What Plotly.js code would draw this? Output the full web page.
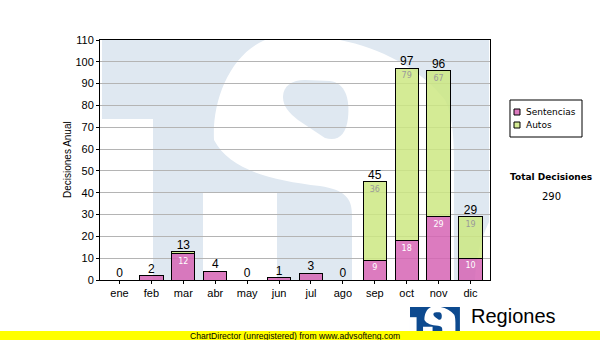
<!DOCTYPE html>
<html>
<head>
<meta charset="utf-8">
<script src="https://cdn.plot.ly/plotly-3.0.1.min.js"></script>
<style>html,body{margin:0;padding:0;background:#fff;}#chart{width:600px;height:340px;}</style>
</head>
<body>
<div id="chart"></div>
<script>
// ---- data ----
const months = ['ene','feb','mar','abr','may','jun','jul','ago','sep','oct','nov','dic'];
const sentencias = [0, 2, 12, 4, 0, 1, 3, 0, 9, 18, 29, 10];
const autos = [0, 0, 1, 0, 0, 0, 0, 0, 36, 79, 67, 19];
const seriesNames = ['Sentencias', 'Autos'];
const yTitle = 'Decisiones Anual';
const totalTitle = 'Total Decisiones';
const brandText = 'Regiones';
const footerText = 'ChartDirector (unregistered) from www.advsofteng.com';

const totals = sentencias.map((s, i) => s + autos[i]);
const grandTotal = totals.reduce((a, b) => a + b, 0);

// ---- page-pixel -> paper helpers (decoration only) ----
const PL = 100, PR = 490, PT = 40, PB = 280;
function toPaper(x, y) { return [(x - PL) / (PR - PL), (PB - y) / (PB - PT)]; }
function pth(d, tx) {
  return d.replace(/(-?\d+(?:\.\d+)?),(-?\d+(?:\.\d+)?)/g, (m, a, b) => {
    const q = tx ? tx(+a, +b) : [+a, +b];
    const p = toPaper(q[0], q[1]);
    return p[0].toFixed(5) + ',' + p[1].toFixed(5);
  });
}
function shp(d, fill, tx, extra) {
  return Object.assign({type: 'path', xref: 'paper', yref: 'paper', layer: 'below',
    path: pth(d, tx), fillcolor: fill, line: {width: 0}}, extra || {});
}

// logo geometry (page px, watermark scale)
const logoBg = 'M102,40 L489,40 L489,280 L102,280 Z';
const logoLeft = 'M102,119 L153,119 L153,280 L102,280 Z';
const logoS = 'M214,140 C212,100 230,55 265,40 L340,40 C380,48 420,68 445,100 C452,115 454,135 454,160 L454,280 L352,280 L352,215 C352,198 345,190 320,186 C270,180 230,170 214,140 Z';
const logoSlab = 'M203,193 L277,193 L277,280 L203,280 Z';
const logoBlob = 'M283,97 C283,86 292,80 305,80 L330,81 C345,83 350,98 348,118 C346,135 338,142 325,138 L298,120 C289,113 283,106 283,97 Z';
const logoCorner = 'M489,222 C480,240 476,260 475,280 L489,280 Z';

const wmBlue = '#dfe8f1';
const logoBlue = '#0d4a8f';
const small = (x, y) => [410 + (x - 102) * 0.129, 307 + (y - 40) * 0.129];

const shapes = [
  // watermark
  shp(logoBg, wmBlue), shp(logoLeft, '#ffffff'), shp(logoS, '#ffffff'),
  shp(logoSlab, '#ffffff'), shp(logoBlob, wmBlue), shp(logoCorner, '#ffffff'),
  // small logo
  shp(logoBg, logoBlue, small), shp(logoLeft, '#ffffff', small), shp(logoS, '#ffffff', small),
  shp(logoSlab, '#ffffff', small), shp(logoBlob, logoBlue, small),
  // footer bar
  shp('M0,331 L600,331 L600,340 L0,340 Z', '#ffff00'),
  // legend box
  shp('M510,100 L582,100 L582,137 L510,137 Z', '#ffffff', null, {line: {width: 1, color: '#000'}}),
  shp('M514,109 L520,109 L520,115 L514,115 Z', '#dc7bbf', null, {line: {width: 1, color: '#000'}}),
  shp('M514,122 L520,122 L520,128 L514,128 Z', '#d5eb95', null, {line: {width: 1, color: '#000'}})
];

function ann(px, py, text, font, extra) {
  const p = toPaper(px, py);
  return Object.assign({xref: 'paper', yref: 'paper', x: p[0], y: p[1], text: text,
    showarrow: false, font: font, xanchor: 'center', yanchor: 'middle'}, extra || {});
}
const verd = 'Verdana, "DejaVu Sans", sans-serif';
const arial = '"Liberation Sans", Arial, sans-serif';
const annotations = [
  ann(524, 112, seriesNames[0], {family: verd, size: 9, color: '#000'}, {xanchor: 'left'}),
  ann(524, 125, seriesNames[1], {family: verd, size: 9, color: '#000'}, {xanchor: 'left'}),
  ann(551, 177, '<b>' + totalTitle + '</b>', {family: verd, size: 9, color: '#000'}),
  ann(551, 196, String(grandTotal), {family: verd, size: 10, color: '#000'}),
  ann(469, 316, brandText, {family: arial, size: 20, color: '#000'}, {xanchor: 'left'}),
  ann(295, 335.5, footerText, {family: arial, size: 8.6, color: '#000'}),
  ann(67, 160, yTitle, {family: arial, size: 10, color: '#000'}, {textangle: -90})
];

const traces = [
  {type: 'bar', name: seriesNames[0], x: months, y: sentencias, text: sentencias.map(String),
   textposition: 'inside', insidetextanchor: 'end',
   textfont: {family: verd, size: 8, color: '#ffffff'},
   marker: {color: 'rgba(214,100,180,0.85)', line: {color: '#000', width: 1}},
   hoverinfo: 'skip'},
  {type: 'bar', name: seriesNames[1], x: months, y: autos, text: autos.map(String),
   textposition: 'inside', insidetextanchor: 'end',
   textfont: {family: verd, size: 8, color: '#9a9a9a'},
   marker: {color: 'rgba(205,232,130,0.85)', line: {color: '#000', width: 1}},
   hoverinfo: 'skip'},
  {type: 'scatter', mode: 'text', x: months, y: totals, text: totals.map(String),
   textposition: 'top center', textfont: {family: arial, size: 12, color: '#000'},
   cliponaxis: false, showlegend: false, hoverinfo: 'skip'}
];

const layout = {
  width: 600, height: 340,
  margin: {l: PL, r: 600 - PR, t: PT, b: 340 - PB, pad: 0},
  paper_bgcolor: '#ffffff', plot_bgcolor: 'rgba(0,0,0,0)',
  barmode: 'stack', bargap: 0.27,
  showlegend: false,
  uniformtext: {mode: 'hide', minsize: 8},
  xaxis: {type: 'category', showline: true, mirror: true, linecolor: '#000', linewidth: 1,
    ticks: 'outside', ticklen: 3, tickcolor: '#000', showgrid: false, zeroline: false,
    tickfont: {family: arial, size: 11, color: '#000'}},
  yaxis: {range: [0, 110], dtick: 10, tick0: 0, showline: true, mirror: true, linecolor: '#000', linewidth: 1,
    ticks: 'outside', ticklen: 3, tickcolor: '#000', showgrid: true, gridcolor: '#b4b4b4', gridwidth: 1,
    zeroline: false, tickfont: {family: arial, size: 11, color: '#000'}},
  shapes: shapes,
  annotations: annotations
};

Plotly.newPlot('chart', traces, layout, {displayModeBar: false, staticPlot: true});
</script>
</body>
</html>
